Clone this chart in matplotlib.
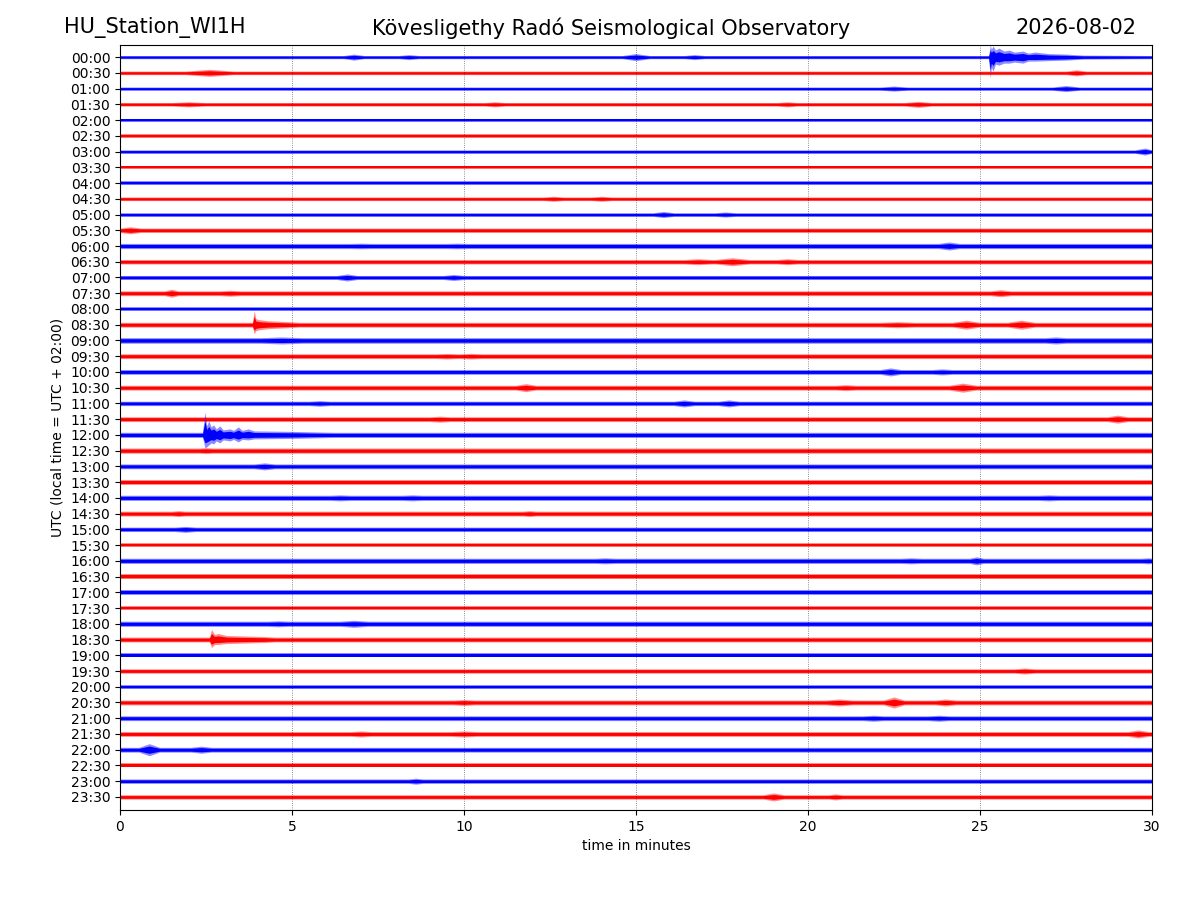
import matplotlib
matplotlib.use("Agg")
import matplotlib.pyplot as plt
import numpy as np

# helicorder, one line per half hour, 30 minutes wide
row_labels = ["%02d:%02d" % (h, m) for h in range(24) for m in (0, 30)]
row_colors = ["blue", "red"] * 24

# background noise level of each line (peak amplitude, counts)
base_amp = [1.6, 1.8, 1.6, 1.8, 1.5, 1.7, 1.7, 1.8, 1.6, 1.8,
            1.8, 2.2, 2.6, 2.2, 2.0, 2.4, 2.4, 2.4, 2.8, 2.4,
            2.4, 2.4, 2.2, 2.4, 2.6, 2.6, 2.4, 2.4, 2.6, 2.4,
            2.2, 2.2, 2.6, 2.2, 2.4, 2.2, 2.6, 2.4, 2.2, 2.2,
            2.0, 2.4, 2.4, 2.4, 2.4, 2.0, 2.2, 2.2]

# short noise bursts: (line, minute, half width in minutes, peak amplitude)
bursts = [
    (0, 6.8, 0.3, 3), (0, 8.4, 0.3, 2.5), (0, 15.0, 0.4, 3.5), (0, 16.7, 0.3, 2.5),
    (1, 2.6, 0.7, 3.5), (1, 27.8, 0.3, 3),
    (2, 22.5, 0.4, 2.5), (2, 27.5, 0.4, 3),
    (3, 2.0, 0.5, 2.5), (3, 10.9, 0.3, 2.5), (3, 19.4, 0.3, 2.5), (3, 23.2, 0.4, 3),
    (6, 29.8, 0.3, 3.5),
    (9, 12.6, 0.3, 2.5), (9, 14.0, 0.3, 2.5),
    (10, 15.8, 0.3, 3), (10, 17.6, 0.3, 2.5),
    (11, 0.3, 0.3, 3.5),
    (12, 7.0, 0.3, 2.8), (12, 9.8, 0.3, 2.8), (12, 24.1, 0.3, 4),
    (13, 16.8, 0.4, 3), (13, 17.8, 0.5, 4), (13, 19.4, 0.3, 3),
    (14, 6.6, 0.3, 3.5), (14, 9.7, 0.3, 3),
    (15, 1.5, 0.2, 4), (15, 3.2, 0.3, 3), (15, 25.6, 0.3, 3.5),
    (17, 22.6, 0.5, 3), (17, 24.6, 0.4, 4.5), (17, 26.2, 0.4, 4.5),
    (18, 4.7, 0.6, 3.5), (18, 27.2, 0.3, 3.5),
    (19, 9.5, 0.3, 2.8), (19, 10.2, 0.3, 2.8),
    (20, 22.4, 0.3, 4), (20, 23.9, 0.3, 3),
    (21, 11.8, 0.3, 4), (21, 21.1, 0.3, 3), (21, 24.5, 0.4, 4.5),
    (22, 5.8, 0.3, 2.8), (22, 16.4, 0.3, 3.5), (22, 17.7, 0.3, 3.5),
    (23, 9.3, 0.3, 3), (23, 29.0, 0.3, 4),
    (25, 2.5, 0.2, 3),
    (26, 4.2, 0.3, 3.5),
    (28, 6.4, 0.3, 3), (28, 8.5, 0.3, 3), (28, 27.0, 0.3, 3),
    (29, 1.7, 0.2, 3), (29, 11.9, 0.2, 3),
    (30, 1.9, 0.3, 3),
    (32, 14.1, 0.3, 3), (32, 23.0, 0.3, 3), (32, 24.9, 0.2, 4), (32, 29.9, 0.2, 3),
    (36, 4.6, 0.3, 3), (36, 6.8, 0.4, 3.5),
    (39, 26.3, 0.3, 3),
    (41, 10.0, 0.3, 3), (41, 20.9, 0.4, 3.5), (41, 22.5, 0.3, 5.5), (41, 24.0, 0.3, 3.5),
    (42, 21.9, 0.3, 3), (42, 23.8, 0.3, 3),
    (43, 7.0, 0.3, 3), (43, 10.0, 0.4, 3), (43, 29.6, 0.3, 4),
    (44, 0.85, 0.3, 6), (44, 2.36, 0.3, 3.5),
    (46, 8.6, 0.2, 3),
    (47, 19.0, 0.3, 4), (47, 20.8, 0.2, 3),
]

# earthquakes: envelope as (minute, amplitude up, amplitude down)
quakes = {
    0: [(25.25, 1.6, 1.6), (25.3, 12, 21), (25.33, 8, 10), (25.38, 11, 14),
        (25.45, 7, 7), (25.55, 9, 8), (25.7, 6, 6), (25.85, 7, 6),
        (26.0, 5, 5), (26.25, 6, 6), (26.4, 4, 4), (26.6, 5, 4),
        (27.0, 3.5, 3.5), (27.5, 3, 3), (28.0, 2, 2)],
    17: [(3.85, 2.4, 2.4), (3.9, 14, 9), (3.95, 6, 6), (4.05, 5, 5),
         (4.3, 4, 4), (4.9, 3, 3), (5.2, 2.4, 2.4)],
    24: [(2.4, 2.6, 2.6), (2.47, 23, 13), (2.52, 9, 12), (2.58, 14, 10),
         (2.65, 8, 8), (2.72, 10, 9), (2.8, 6, 6), (2.9, 9, 8), (3.0, 5, 5),
         (3.2, 6, 6), (3.3, 4.5, 4.5), (3.44, 8, 7), (3.55, 4.5, 4.5),
         (3.73, 6, 5), (3.9, 4, 4), (5.0, 3.5, 3.5), (5.6, 3, 3),
         (6.2, 2.6, 2.6)],
    37: [(2.6, 2.4, 2.4), (2.66, 10, 8), (2.75, 5, 5), (2.85, 6, 5),
         (3.1, 4, 4), (4.2, 3, 3), (4.5, 2.4, 2.4)],
}

gain = 1 / 15.7  # counts -> line spacing

fig = plt.figure(figsize=(12, 9), dpi=100)
ax = fig.add_axes([0.1, 0.1, 0.86, 0.85])

for row in range(len(row_labels)):
    b = base_amp[row]
    knots = [(0.0, b, b), (30.0, b, b)]
    for r, m, w, a in bursts:
        if r == row:
            knots += [(m - w, b, b), (m, a, a), (m + w, b, b)]
    knots += quakes.get(row, [])
    knots.sort()
    t = [k[0] for k in knots]
    up = np.array([k[1] for k in knots]) * gain
    dn = np.array([k[2] for k in knots]) * gain
    c = row_colors[row]
    ax.fill_between(t, row - up, row + dn, color=c, alpha=0.45, lw=0)
    ax.fill_between(t, row - 0.6 * up, row + 0.6 * dn, color=c, lw=0)
    ax.plot([0, 30], [row, row], color=c, lw=1)

ax.set_xlim(0, 30)
ax.set_ylim(47.83, -0.77)
ax.set_yticks(range(len(row_labels)))
ax.set_yticklabels(row_labels)
ax.set_xticks([0, 5, 10, 15, 20, 25, 30])
ax.grid(axis="x", linestyle=":", color="black", lw=0.6, alpha=0.6)
ax.set_xlabel("time in minutes")
ax.set_ylabel("UTC (local time = UTC + 02:00)")

fig.text(0.053, 0.969, "HU_Station_WI1H", fontsize=15, va="center", ha="left")
fig.text(0.509, 0.969, "Kövesligethy Radó Seismological Observatory",
         fontsize=15, va="center", ha="center")
fig.text(0.947, 0.969, "2026-08-02", fontsize=15, va="center", ha="right")

fig.savefig("out.png")
